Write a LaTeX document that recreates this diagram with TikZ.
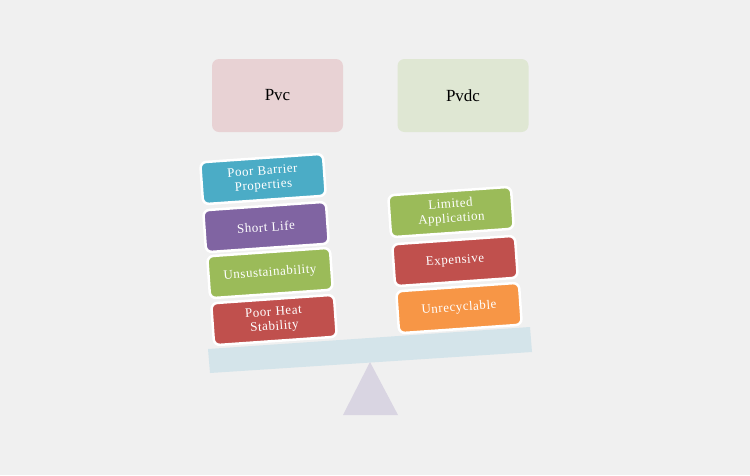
\documentclass[tikz,border=0pt]{standalone}
\usepackage{fontspec}
\setmainfont{Liberation Serif}
\definecolor{bg}{HTML}{F0F0F0}
\definecolor{pvcpink}{HTML}{E8D2D4}
\definecolor{pvdcgreen}{HTML}{DFE7D3}
\definecolor{beamblue}{HTML}{D4E4EA}
\definecolor{pivotgrey}{HTML}{D9D5E2}
\definecolor{cblue}{HTML}{4BACC6}
\definecolor{cpurple}{HTML}{8064A2}
\definecolor{cgreen}{HTML}{9BBB59}
\definecolor{cred}{HTML}{C0504D}
\definecolor{corange}{HTML}{F79646}
\begin{document}
\begin{tikzpicture}[x=1pt,y=-1pt,
	title box/.style={fill=#1,rounded corners=7pt,minimum width=131pt,minimum height=73pt,
		font=\fontsize{17}{19}\selectfont,text=black},
	weight box/.style={fill=#1,draw=white,line width=2.5pt,rounded corners=6pt,rotate=4,
		minimum width=123pt,minimum height=42pt,text width=116pt,align=center,inner sep=1pt,
		font=\fontsize{13}{14.5}\selectfont\addfontfeatures{LetterSpace=4},text=white}]
  \path[use as bounding box, fill=bg] (0,0) rectangle (750,475);

% scale
\fill[pivotgrey] (370,362) -- (398,415) -- (343,415) -- cycle;
\fill[beamblue] (208,349) -- (530,327) -- (532,352) -- (210,373) -- cycle;

\node[title box=pvcpink] (pvc) at (277.5,95.5) {Pvc};
\node[title box=pvdcgreen] (pvdc) at (463,95.5) {Pvdc};

% left pan
\node[weight box=cblue] (barrier) at (263,179) {Poor Barrier\\Properties};
\node[weight box=cpurple] (life) at (266,227) {Short Life};
\node[weight box=cgreen] (sustain) at (270,273) {Unsustainability};
\node[weight box=cred] (heat) at (274,320) {Poor Heat\\Stability};

% right pan
\node[weight box=cgreen] (limited) at (451,212) {Limited\\Application};
\node[weight box=cred] (expensive) at (455,261) {Expensive};
\node[weight box=corange] (recycle) at (459,308) {Unrecyclable};
\end{tikzpicture}
\end{document}
